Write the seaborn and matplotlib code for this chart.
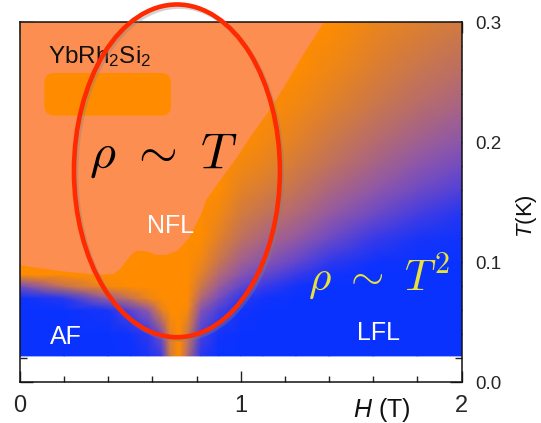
import numpy as np
import matplotlib
matplotlib.use("Agg")
import matplotlib.pyplot as plt
import seaborn as sns
from matplotlib.colors import LinearSegmentedColormap
from matplotlib.patches import Ellipse, FancyBboxPatch
from matplotlib.ticker import MultipleLocator, FixedLocator
import matplotlib.patheffects as pe

# ---------------- data ----------------
# field grid (H in tesla, T in kelvin)
H_grid = [0, 0.2, 0.4, 0.5, 0.58, 0.64, 0.68, 0.72, 0.76, 0.82, 0.9, 1.0, 1.1, 1.25, 1.4, 1.6, 1.8, 2.0]
T_grid = [0.022, 0.04, 0.06, 0.07, 0.08, 0.09, 0.10, 0.12, 0.14, 0.16, 0.18, 0.20, 0.23, 0.26, 0.30]
# resistivity exponent n (1 = linear / orange, 2 = quadratic / blue), one row per T
n_exponent = [
    [2, 2, 2, 2, 1.95, 1.85, 1.25, 1, 1.4, 1.9, 2, 2, 2, 2, 2, 2, 2, 2],
    [2, 2, 2, 1.98, 1.88, 1.65, 1.15, 1, 1.25, 1.8, 1.97, 2, 2, 2, 2, 2, 2, 2],
    [2, 2, 1.95, 1.75, 1.55, 1.15, 1, 1, 1.05, 1.6, 1.8, 1.97, 2, 2, 2, 2, 2, 2],
    [2, 1.9, 1.5, 1.3, 1.1, 1, 1, 1, 1, 1.4, 1.65, 1.88, 1.97, 2, 2, 2, 2, 2],
    [1.65, 1.3, 1.05, 1, 1, 1, 1, 1, 1, 1.25, 1.5, 1.72, 1.85, 1.97, 2, 2, 2, 2],
    [1, 1, 1, 1, 1, 1, 1, 1, 1, 1.15, 1.38, 1.58, 1.7, 1.85, 1.97, 2, 2, 2],
    [1, 1, 1, 1, 1, 1, 1, 1, 1, 1.08, 1.28, 1.48, 1.58, 1.72, 1.88, 1.98, 2, 2],
    [1, 1, 1, 1, 1, 1, 1, 1, 1, 1, 1.15, 1.32, 1.42, 1.53, 1.68, 1.85, 1.95, 1.98],
    [1, 1, 1, 1, 1, 1, 1, 1, 1, 1, 1.07, 1.22, 1.3, 1.4, 1.53, 1.68, 1.82, 1.92],
    [1, 1, 1, 1, 1, 1, 1, 1, 1, 1, 1, 1.14, 1.2, 1.3, 1.42, 1.55, 1.68, 1.78],
    [1, 1, 1, 1, 1, 1, 1, 1, 1, 1, 1, 1.07, 1.12, 1.22, 1.32, 1.45, 1.57, 1.67],
    [1, 1, 1, 1, 1, 1, 1, 1, 1, 1, 1, 1, 1.06, 1.15, 1.25, 1.37, 1.48, 1.57],
    [1, 1, 1, 1, 1, 1, 1, 1, 1, 1, 1, 1, 1, 1.07, 1.16, 1.26, 1.36, 1.44],
    [1, 1, 1, 1, 1, 1, 1, 1, 1, 1, 1, 1, 1, 1, 1.08, 1.18, 1.27, 1.34],
    [1, 1, 1, 1, 1, 1, 1, 1, 1, 1, 1, 1, 1, 1, 1, 1.1, 1.17, 1.23],
]
# outline of the NFL (rho ~ T) region
nfl_H = [0, 0, 0.19, 0.36, 0.423, 0.453, 0.476, 0.506, 0.528, 0.574, 0.619, 0.664, 0.71,
         0.762, 0.82, 0.84, 0.906, 0.982, 1.042, 1.117, 1.193, 1.283, 1.374]
nfl_T = [0.30, 0.098, 0.093, 0.090, 0.0908, 0.095, 0.1005, 0.1075, 0.110, 0.1097, 0.1067, 0.1067, 0.110,
         0.120, 0.141, 0.152, 0.169, 0.188, 0.205, 0.224, 0.246, 0.274, 0.30]
x_ticklabels = ["0", "1", "2"]
y_ticklabels = ["0.0", "0.1", "0.2", "0.3"]

# ---------------- style ----------------
sns.set_theme(style="ticks")
plt.rcParams["font.family"] = ["Liberation Sans", "DejaVu Sans"]
plt.rcParams["mathtext.fontset"] = "custom"
plt.rcParams["mathtext.rm"] = "Liberation Sans"
plt.rcParams["mathtext.it"] = "Liberation Sans:italic"

BLUE = "#0a32ff"
ORANGE = "#ff8c00"
SALMON = "#fd8e52"
cmap = LinearSegmentedColormap.from_list(
    "exponent",
    [(0.0, ORANGE), (0.12, "#e88420"), (0.25, "#cc7848"), (0.4, "#b06878"),
     (0.55, "#9058a8"), (0.7, "#6a48c8"), (0.85, "#3a3ae8"), (1.0, BLUE)])

fig = plt.figure(figsize=(5.41, 4.23), dpi=100)
ax = fig.add_axes([20 / 541, 1 - 382.3 / 423, 441.5 / 541, 360 / 423])
ax.set_facecolor("white")

HH, TT = np.meshgrid(H_grid, T_grid)
ax.pcolormesh(HH, TT, np.array(n_exponent), shading="gouraud", cmap=cmap,
              vmin=1, vmax=2, zorder=1, rasterized=True)
ax.fill(nfl_H, nfl_T, color=SALMON, lw=0.8, ec=SALMON, zorder=1.2)

ax.set_xlim(0, 2)
ax.set_ylim(0, 0.3)

# rounded orange label box
ax.add_patch(FancyBboxPatch((0.155, 0.2305), 0.484, 0.0190,
                            boxstyle="round,pad=0.045,rounding_size=0.045",
                            mutation_aspect=220.75 / 1200, fc=ORANGE, ec="none", zorder=2))

# texts
ax.text(0.127, 0.2658, r"YbRh$_2$Si$_2$", fontsize=17.5, color="#111111",
        ha="left", va="baseline", zorder=3)
ax.text(0.648, 0.1786, r"$\rho\ \sim\ T$", fontsize=36, color="black",
        ha="center", va="baseline", math_fontfamily="cm", zorder=3)
ax.text(0.684, 0.1242, "NFL", fontsize=18, color="white", ha="center", va="baseline", zorder=3)
ax.text(0.136, 0.0319, "AF", fontsize=18, color="white", ha="left", va="baseline", zorder=3)
ax.text(1.622, 0.0352, "LFL", fontsize=18, color="white", ha="center", va="baseline", zorder=3)
ax.text(1.305, 0.0769, r"$\rho\ \sim\ T^2$", fontsize=31, color="#e9e23a",
        ha="left", va="baseline", math_fontfamily="cm", zorder=3)

# red ellipse marking the quantum critical region
ell = Ellipse((0.711, 0.1762), width=0.933, height=0.2773, fill=False,
              edgecolor="#ff2a00", lw=3.3, clip_on=False, zorder=4)
ell.set_path_effects([pe.SimpleLineShadow(offset=(1.5, -1.5), shadow_color="gray", alpha=0.35),
                      pe.Normal()])
ax.add_patch(ell)

# axes / ticks
ax.xaxis.set_major_locator(FixedLocator([0, 1, 2]))
ax.set_xticklabels(x_ticklabels)
ax.xaxis.set_minor_locator(MultipleLocator(0.2))
ax.yaxis.set_major_locator(FixedLocator([0, 0.1, 0.2, 0.3]))
ax.set_yticklabels(y_ticklabels)
ax.yaxis.set_minor_locator(MultipleLocator(0.02))
ax.tick_params(axis="both", which="both", direction="in", top=True, bottom=True,
               left=True, right=True, color="#222222")
ax.tick_params(axis="x", which="major", length=8, width=1, labelsize=17, pad=9)
ax.tick_params(axis="x", which="minor", length=4.3, width=1)
ax.tick_params(axis="y", which="major", length=9, width=1, labelsize=13.5, pad=10,
               labelleft=False, labelright=True)
ax.tick_params(axis="y", which="minor", length=5, width=1)
for s in ax.spines.values():
    s.set_linewidth(1.1)
    s.set_color("#111111")
    s.set_zorder(3)

ax.set_xlabel(r"$H$ (T)", fontsize=18, color="#111111")
ax.xaxis.set_label_coords(0.819, -0.077)
ax.xaxis.label.set_va("center")
ax.yaxis.set_label_position("right")
ax.set_ylabel(r"$T$(K)", fontsize=16, color="#111111", rotation=90)
ax.yaxis.set_label_coords(1.148, 0.462)
ax.yaxis.label.set_va("center")
ax.yaxis.label.set_ha("center")

fig.savefig("out.png", dpi=100)
